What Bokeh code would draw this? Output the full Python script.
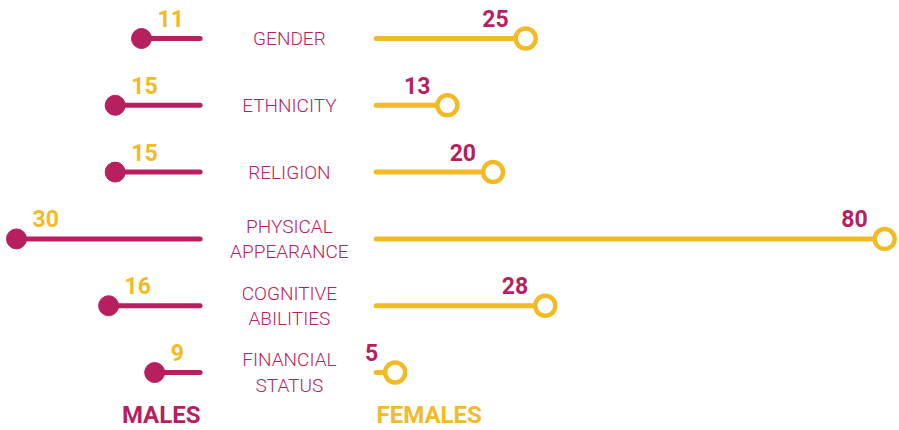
from bokeh.plotting import figure
from bokeh.models import Range1d, Label, ColumnDataSource
from bokeh.core.properties import value
from bokeh.embed import file_html
from bokeh.resources import INLINE

# ---- data ----
categories = ["GENDER", "ETHNICITY", "RELIGION", "PHYSICAL\nAPPEARANCE",
              "COGNITIVE\nABILITIES", "FINANCIAL\nSTATUS"]
males = [11, 15, 15, 30, 16, 9]
females = [25, 13, 20, 80, 28, 5]

# ---- style ----
MAGENTA = "#B71F5F"
YELLOW = "#F2BB25"
STEM_OFFSET = 2.1
LABEL_X = -11.2

src = ColumnDataSource(dict(
    y=list(range(len(categories))),
    cat=categories,
    m=males,
    f=females,
    m_txt=[str(v) for v in males],
    f_txt=[str(v) for v in females],
))

p = figure(width=899, height=430, output_backend="svg", toolbar_location=None,
           x_range=Range1d(-55.46, 82.27), y_range=Range1d(5.868, -0.569),
           x_axis_location=None, y_axis_location=None,
           min_border=0, min_border_left=0, min_border_right=0,
           min_border_top=0, min_border_bottom=0)
p.extra_x_ranges = {"male": Range1d(32.43, -104.2)}
p.grid.visible = False
p.outline_line_color = None
p.background_fill_color = "white"
p.border_fill_color = "white"

# males
p.segment(x0="m", y0="y", x1=STEM_OFFSET, y1="y", source=src, x_range_name="male",
          line_color=MAGENTA, line_width=5, line_cap="round")
p.scatter(x="m", y="y", source=src, x_range_name="male", size=20,
          fill_color=MAGENTA, line_color=MAGENTA)
p.text(x="m", y="y", text="m_txt", source=src, x_range_name="male",
       x_offset=16, y_offset=-20, text_align="left", text_baseline="alphabetic",
       text_font=value("Roboto"), text_font_style="bold", text_font_size="23px",
       text_color=YELLOW)

# females
p.segment(x0=STEM_OFFSET, y0="y", x1="f", y1="y", source=src,
          line_color=YELLOW, line_width=5, line_cap="round")
p.scatter(x="f", y="y", source=src, size=20, fill_color="white",
          line_color=YELLOW, line_width=4.5)
p.text(x="f", y="y", text="f_txt", source=src,
       x_offset=-17, y_offset=-20, text_align="right", text_baseline="alphabetic",
       text_font=value("Roboto"), text_font_style="bold", text_font_size="23px",
       text_color=MAGENTA)

# category labels
p.text(x=LABEL_X, y="y", text="cat", source=src, text_align="center",
       text_baseline="middle", text_font=value("Roboto Light"),
       text_font_size="19px", text_color=MAGENTA, text_line_height=1.1)

p.add_layout(Label(x=200, y=16, x_units="screen", y_units="screen", text="MALES",
                   text_align="right", text_baseline="alphabetic",
                   text_font="Roboto", text_font_style="bold",
                   text_font_size="24px", text_color=MAGENTA))
p.add_layout(Label(x=376, y=16, x_units="screen", y_units="screen", text="FEMALES",
                   text_align="left", text_baseline="alphabetic",
                   text_font="Roboto", text_font_style="bold",
                   text_font_size="24px", text_color=YELLOW))

open("out.html", "w").write(file_html(p, INLINE))
